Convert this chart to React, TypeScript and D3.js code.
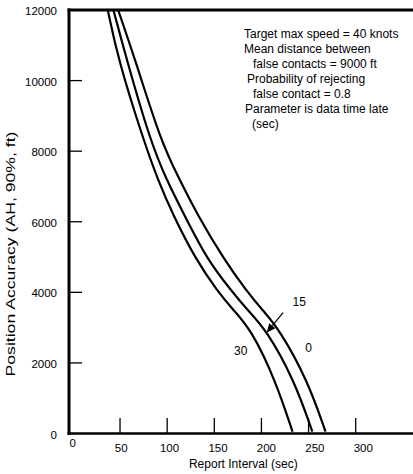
import React from "react";
import * as d3 from "d3";

const W = 413;
const H = 474;

// Position accuracy (ft) sampled along curves
const positionAccuracy = [12000, 10600, 8300, 7200, 6200, 4900, 4050, 3500, 2950, 1500, 50];
// Report interval (sec) for each data-time-late parameter
const late0 = [48, 66, 93, 113, 132, 161, 184, 201, 219, 249, 268];
const late15 = [43, 57, 82, 99, 118, 143, 168, 185, 205, 235, 254];
const late30 = [37, 48, 75, 90, 106, 131, 153, 170, 189, 215, 233];

const xTickValues = [50, 100, 150, 200, 250, 300];
const xTickLabels = [0, 50, 100, 150, 200, 250, 300];
const yTickValues = [2000, 4000, 6000, 8000, 10000];
const yTickLabels = [0, 2000, 4000, 6000, 8000, 10000, 12000];

const notes = [
  "Target max speed = 40 knots",
  "Mean distance between",
  "false contacts = 9000 ft",
  "Probability of rejecting",
  "false contact = 0.8",
  "Parameter is data time late",
  "(sec)",
];
const noteIndent = [0, 0, 9, 3, 9, 1, 8];

const curveLabels = [
  { text: "15", x: 240, y: 3735 },
  { text: "0", x: 250, y: 2415 },
  { text: "30", x: 178, y: 2338 },
];
const arrowFrom = { x: 223, y: 3424 };
const arrowTo = { x: 205.5, y: 2857 };

const FONT = "'Liberation Sans', Arial, Helvetica, sans-serif";

export default function App() {
  const x = d3.scaleLinear().domain([0, 300]).range([72.9, 355.7]);
  const xLab = d3.scaleLinear().domain([0, 300]).range([72.7, 363.3]);
  const y = d3.scaleLinear().domain([0, 12000]).range([433.5, 10]);

  const line = d3
    .line<[number, number]>()
    .x((d) => x(d[0]))
    .y((d) => y(d[1]))
    .curve(d3.curveBasis);

  const series = [late0, late15, late30].map((xs) =>
    xs.map((v, i) => [v, positionAccuracy[i]] as [number, number])
  );

  const ax0 = x(arrowFrom.x), ay0 = y(arrowFrom.y);
  const ax1 = x(arrowTo.x), ay1 = y(arrowTo.y);
  const ang = Math.atan2(ay1 - ay0, ax1 - ax0);
  const hl = 9, hw = 4;
  const bx = ax1 - hl * Math.cos(ang), by = ay1 - hl * Math.sin(ang);
  const head = [
    [ax1, ay1],
    [bx + hw * Math.sin(ang), by - hw * Math.cos(ang)],
    [bx - hw * Math.sin(ang), by + hw * Math.cos(ang)],
  ];

  return (
    <svg
      width={W}
      height={H}
      style={{ position: "absolute", left: 0, top: 0, background: "#fff" }}
      fontFamily={FONT}
    >
      <rect width={W} height={H} fill="#fff" />
      {/* frame */}
      <line x1={67.5} x2={W} y1={10} y2={10} stroke="#000" strokeWidth={3} />
      <line x1={69} x2={69} y1={8.5} y2={435} stroke="#000" strokeWidth={3} />
      <line x1={67.5} x2={W} y1={433.5} y2={433.5} stroke="#000" strokeWidth={2.7} />

      {/* y ticks */}
      {yTickValues.map((v) => (
        <line key={v} x1={69} x2={82} y1={y(v)} y2={y(v)} stroke="#000" strokeWidth={1.3} />
      ))}
      {yTickLabels.map((v) => (
        <text key={v} x={57} y={y(v) + 1} textAnchor="end" dominantBaseline="central" fontSize={11.5}>
          {v}
        </text>
      ))}

      {/* x ticks */}
      {xTickValues.map((v) => (
        <line key={v} x1={x(v)} x2={x(v)} y1={433.5} y2={418} stroke="#000" strokeWidth={1.3} />
      ))}
      {xTickLabels.map((v) => (
        <text key={v} x={xLab(v)} y={v === 0 ? 447 : 452} textAnchor="middle" fontSize={11.5}>
          {v}
        </text>
      ))}

      <text x={243.3} y={467.5} textAnchor="middle" fontSize={12}>
        Report Interval (sec)
      </text>
      <text
        transform={`translate(11,254) rotate(-90)`}
        textAnchor="middle"
        dominantBaseline="central"
        fontSize={12}
        textLength={245}
        lengthAdjust="spacingAndGlyphs"
      >
        Position Accuracy (AH, 90%, ft)
      </text>

      {/* curves */}
      {series.map((s, i) => (
        <path key={i} d={line(s) || ""} fill="none" stroke="#000" strokeWidth={2.2} />
      ))}

      {/* curve labels */}
      {curveLabels.map((c) => (
        <text key={c.text} x={x(c.x)} y={y(c.y)} textAnchor="middle" dominantBaseline="central" fontSize={12}>
          {c.text}
        </text>
      ))}
      <line x1={ax0} y1={ay0} x2={bx} y2={by} stroke="#000" strokeWidth={1.2} />
      <polygon points={head.map((p) => p.join(",")).join(" ")} fill="#000" />

      {/* notes */}
      {notes.map((t, i) => (
        <text key={i} x={244 + noteIndent[i]} y={37.7 + 15 * i} fontSize={12}>
          {t}
        </text>
      ))}
    </svg>
  );
}
